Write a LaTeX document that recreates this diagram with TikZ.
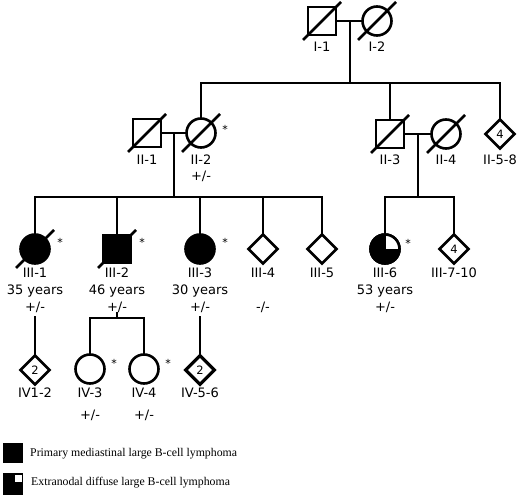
\documentclass[tikz,border=0pt]{standalone}
\usepackage{fontspec}
\setmainfont{DejaVu Sans}
\newfontfamily\legfont{Liberation Serif}
\usetikzlibrary{shapes.geometric}
\newcommand\mydead[1]{\draw[lw] (#1.center) ++(-19,19) -- ++(38,-38);}
\begin{document}
\begin{tikzpicture}[x=1pt,y=-1pt,
  lw/.style={line width=2.6pt},
  conn/.style={lw,line cap=rect},
  male/.style={draw,lw,rectangle,minimum size=28pt,inner sep=0pt},
  female/.style={draw,lw,circle,minimum size=29pt,inner sep=0pt},
  unk/.style={draw,lw,diamond,minimum size=30pt,inner sep=0pt,font=\fontsize{11.5}{13}\selectfont},
  aff/.style={fill=black},
  lbl/.style={font=\fontsize{13}{15}\selectfont,inner sep=0pt,anchor=base},
  star/.style={font=\fontsize{11}{12}\selectfont,inner sep=0pt},
  legtext/.style={font=\legfont\fontsize{11.8}{13}\selectfont,inner sep=0pt,anchor=west},
  ]
\useasboundingbox[fill=white] (0,0) rectangle (520,497);

% Generation I
\node[male] (I1) at (322,21) {}; \mydead{I1}
\node[female] (I2) at (377,21) {}; \mydead{I2}
\draw[conn] (I1) -- (I2);
\coordinate (m1) at (350,21);
\coordinate (s1) at (350,83);
\draw[conn] (m1) -- (s1);
\node[lbl] (I1l) at (322,52) {I-1};
\node[lbl] (I2l) at (377,52) {I-2};

% Generation II
\node[male] (II1) at (147,133) {}; \mydead{II1}
\node[female] (II2) at (201,133) {}; \mydead{II2}
\node[male] (II3) at (390,134) {}; \mydead{II3}
\node[female] (II4) at (446,134) {}; \mydead{II4}
\node[unk] (II58) at (500,134) {4};
\coordinate (s1l) at (201,83);
\coordinate (s1m) at (390,83);
\coordinate (s1r) at (500,83);
\draw[conn] (II2) -- (s1l) -- (s1r) -- (II58);
\draw[conn] (s1m) -- (II3);
\draw[conn] (II1) -- (II2);
\draw[conn] (II3) -- (II4);
\node[star] (II2s) at (225,129) {*};
\node[lbl] (II1l) at (147,165) {II-1};
\node[lbl] (II2l) at (201,165) {II-2};
\node[lbl] (II2g) at (201,181) {+/-};
\node[lbl] (II3l) at (390,165) {II-3};
\node[lbl] (II4l) at (446,165) {II-4};
\node[lbl] (II58l) at (500,165) {II-5-8};
\coordinate (m2) at (174,133);
\coordinate (s2) at (174,197);
\draw[conn] (m2) -- (s2);
\coordinate (m3) at (418,134);
\coordinate (s3) at (418,197);
\draw[conn] (m3) -- (s3);

% Generation III
\node[female,aff] (III1) at (35,249) {}; \mydead{III1}
\node[male,aff] (III2) at (117,249) {}; \mydead{III2}
\node[female,aff] (III3) at (200,249) {};
\node[unk] (III4) at (263,249) {};
\node[unk] (III5) at (322,249) {};
\node[female,aff] (III6) at (385,249) {};
\begin{scope}
  \clip (III6.center) rectangle ++(20,-20);
  \fill[white] (III6.center) circle[radius=14.5pt];
\end{scope}
\draw[line width=0.8pt] (III6.center) ++(0,-14.5) -- (III6.center) -- ++(14.5,0);
\draw[lw] (III6.center) circle[radius=14.5pt];
\node[unk] (III710) at (454,249) {4};

\coordinate (c1) at (35,197);
\coordinate (c2) at (117,197);
\coordinate (c3) at (200,197);
\coordinate (c4) at (263,197);
\coordinate (c5) at (322,197);
\draw[conn] (III1) -- (c1) -- (c5) -- (III5);
\draw[conn] (c2) -- (III2);
\draw[conn] (c3) -- (III3);
\draw[conn] (c4) -- (III4);
\coordinate (c6) at (385,197);
\coordinate (c7) at (454,197);
\draw[conn] (III6) -- (c6) -- (c7) -- (III710);

\node[star] (III1s) at (60,242) {*};
\node[star] (III2s) at (142,242) {*};
\node[star] (III3s) at (225,242) {*};
\node[star] (III6s) at (408,243) {*};

\node[lbl] (III1l) at (35,278) {III-1};
\node[lbl] (III1y) at (35,295) {35 years};
\node[lbl] (III1g) at (35,312) {+/-};
\node[lbl] (III2l) at (117,278) {III-2};
\node[lbl] (III2y) at (117,295) {46 years};
\node[lbl] (III2g) at (117,312) {+/-};
\node[lbl] (III3l) at (200,278) {III-3};
\node[lbl] (III3y) at (200,295) {30 years};
\node[lbl] (III3g) at (200,312) {+/-};
\node[lbl] (III4l) at (263,278) {III-4};
\node[lbl] (III4g) at (263,312) {-/-};
\node[lbl] (III5l) at (322,278) {III-5};
\node[lbl] (III6l) at (385,278) {III-6};
\node[lbl] (III6y) at (385,295) {53 years};
\node[lbl] (III6g) at (385,312) {+/-};
\node[lbl] (III710l) at (454,278) {III-7-10};

% Generation IV
\node[unk] (IV12) at (35,370) {2};
\node[female] (IV3) at (90,369) {};
\node[female] (IV4) at (144,369) {};
\node[unk,line width=3.2pt] (IV56) at (200,370) {2};
\coordinate (d1) at (35,317);
\draw[conn] (d1) -- (IV12);
\coordinate (b0) at (117,318);
\coordinate (t0) at (117,312);
\coordinate (b1) at (90,318);
\coordinate (b2) at (144,318);
\draw[conn] (IV3) -- (b1) -- (b2) -- (IV4);
\draw[line width=1.5pt] (t0) -- (b0);
\coordinate (d3) at (200,317);
\draw[conn] (d3) -- (IV56);
\node[star] (IV3s) at (114,363) {*};
\node[star] (IV4s) at (168,363) {*};
\node[lbl] (IV12l) at (35,398) {IV1-2};
\node[lbl] (IV3l) at (90,398) {IV-3};
\node[lbl] (IV3g) at (90,419) {+/-};
\node[lbl] (IV4l) at (144,398) {IV-4};
\node[lbl] (IV4g) at (144,419) {+/-};
\node[lbl] (IV56l) at (200,398) {IV-5-6};

% Legend
\fill (3,443) rectangle (23,463);
\node[legtext] (leg1) at (30,454) {Primary mediastinal large B-cell lymphoma};
\fill (3,473) rectangle (23,495);
\fill[white] (15,475) rectangle (22,482);
\node[legtext] (leg2) at (31,483) {Extranodal diffuse large B-cell lymphoma};
\end{tikzpicture}
\end{document}
